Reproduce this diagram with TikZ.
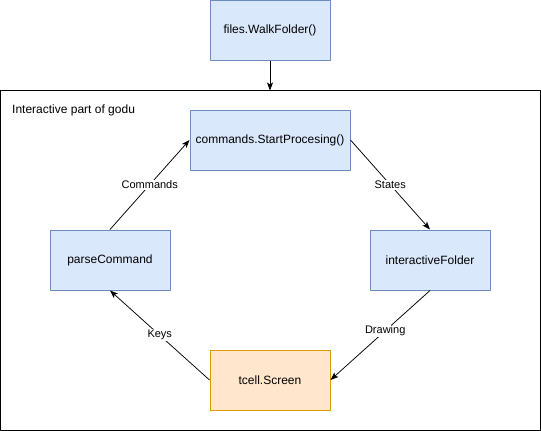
\documentclass[tikz,border=0pt]{standalone}
\usepackage{fontspec}
\setmainfont{Liberation Sans}
\usetikzlibrary{arrows.meta}
\usetikzlibrary{positioning}

\definecolor{boxblue}{HTML}{DAE8FC}
\definecolor{lineblue}{HTML}{6C8EBF}
\definecolor{boxorange}{HTML}{FFE6CC}
\definecolor{lineorange}{HTML}{D79B00}

\begin{document}
\begin{tikzpicture}[
  x=1pt,
  y=-1pt,
  line join=round,
  >={Stealth[length=8pt,width=6pt,inset=2pt]},
  funcbox/.style={draw=lineblue, fill=boxblue, line width=1pt,
    minimum width=120pt, minimum height=60pt, inner sep=0pt,
    font=\fontsize{12}{14}\selectfont},
  screenbox/.style={funcbox, draw=lineorange, fill=boxorange},
  flow/.style={->, line width=0.75pt},
  flowlabel/.style={fill=white, inner sep=1pt,
    font=\fontsize{11}{13}\selectfont}
]
\useasboundingbox (0,0) rectangle (541,431);

% outer frame for the interactive part
\draw [line width=1pt] (0.5,90.5) rectangle (540.5,430.5);
\node [anchor=west, inner sep=0pt, font=\fontsize{12}{14}\selectfont]
  (title) at (12,110) {Interactive part of godu};

\node [funcbox] (walk) at (270,30) {files.WalkFolder()};
\coordinate (frametop) at (270,90.5);

\node [funcbox, minimum width=160pt] (start) at (270,140) {commands.StartProcesing()};
\node [funcbox] (folder) at (430,260) {interactiveFolder};
\node [screenbox] (screen) at (270,380) {tcell.Screen};
\node [funcbox] (parse) at (110,260) {parseCommand};

\draw [flow] (walk) -- (frametop);

\draw [flow] (start.east) -- (folder.north)
  node [flowlabel, midway] (states) {States};
\draw [flow] (folder.south) -- (screen.east)
  node [flowlabel, pos=0.45] (drawing) {Drawing};
\draw [flow] (screen.west) -- (parse.south)
  node [flowlabel, midway] (keys) {Keys};
\draw [flow] (parse.north) -- (start.west)
  node [flowlabel, midway] (commands) {Commands};

\end{tikzpicture}
\end{document}
